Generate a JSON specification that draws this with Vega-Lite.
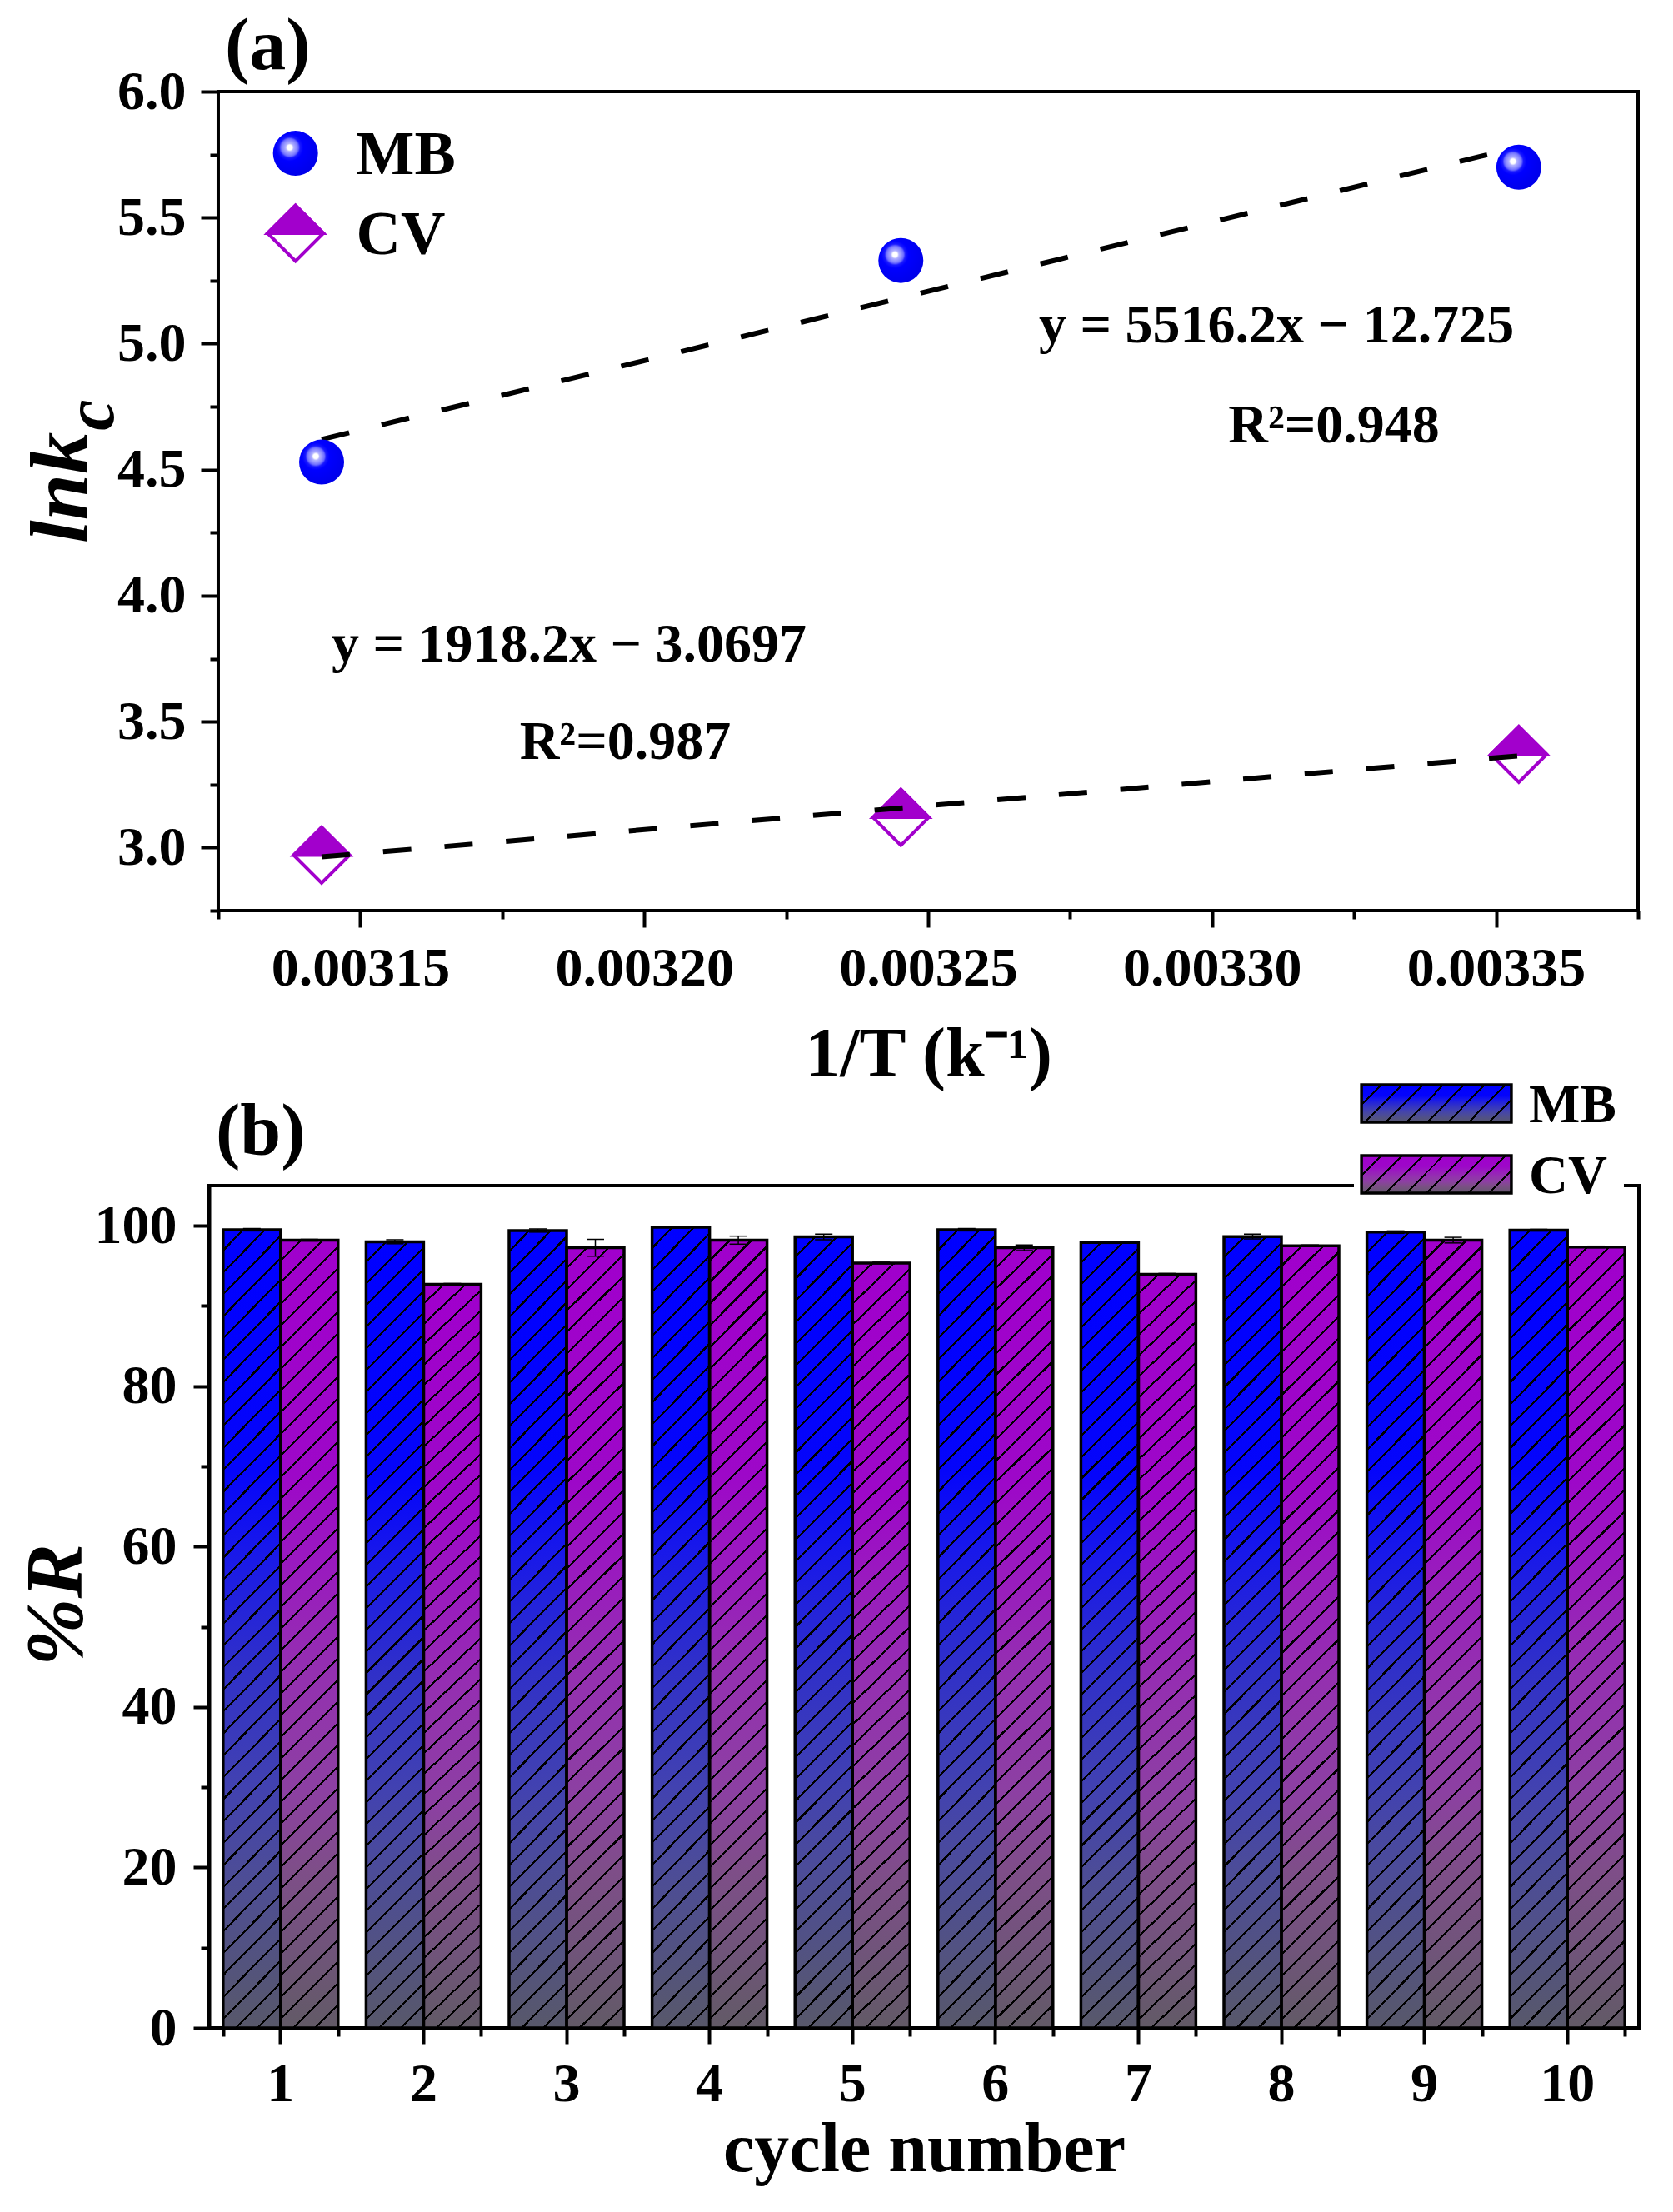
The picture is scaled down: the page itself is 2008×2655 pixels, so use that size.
{
  "$schema": "https://vega.github.io/schema/vega-lite/v6.json",
  "background": "white",
  "padding": {"left": 17, "top": 13, "right": 0, "bottom": 0},
  "config": {
    "font": "Liberation Serif",
    "view": {"stroke": "black", "strokeWidth": 4},
    "axis": {
      "labelFont": "Liberation Serif", "labelFontSize": 66, "labelFontWeight": "bold", "labelColor": "black", "labelLimit": 0,
      "titleFont": "Liberation Serif", "titleFontWeight": "bold", "titleColor": "black", "titleLimit": 0,
      "domainColor": "black", "domainWidth": 4, "tickColor": "black", "tickWidth": 4,
      "grid": false, "labelFlush": false, "labelOverlap": false, "labelBound": false
    },
    "title": {"font": "Liberation Serif", "fontWeight": "bold", "fontSize": 88, "color": "black", "anchor": "start", "frame": "group", "baseline": "alphabetic"},
    "text": {"font": "Liberation Serif", "fontWeight": "bold", "color": "black"}
  },
  "datasets": {
    "points": [
      {"invT": 0.0031432, "lnk": 4.53, "dye": "MB"},
      {"invT": 0.0032452, "lnk": 5.33, "dye": "MB"},
      {"invT": 0.003354, "lnk": 5.70, "dye": "MB"},
      {"invT": 0.0031432, "lnk": 2.97, "dye": "CV"},
      {"invT": 0.0032452, "lnk": 3.12, "dye": "CV"},
      {"invT": 0.003354, "lnk": 3.37, "dye": "CV"}
    ],
    "fits": [
      {"invT": 0.0031432, "fit": 4.62, "dye": "MB"},
      {"invT": 0.003354, "fit": 5.78, "dye": "MB"},
      {"invT": 0.0031432, "fit": 2.963, "dye": "CV"},
      {"invT": 0.003354, "fit": 3.364, "dye": "CV"}
    ],
    "fitText": [
      {"dye": "MB", "eq": "y = 5516.2x − 12.725", "r2": "R²=0.948"},
      {"dye": "CV", "eq": "y = 1918.2x − 3.0697", "r2": "R²=0.987"}
    ],
    "legend": [{"dye": "MB"}, {"dye": "CV"}],
    "bars": [
      {"cycle": 1, "dye": "MB", "R": 99.5, "lo": 99.35, "hi": 99.65},
      {"cycle": 1, "dye": "CV", "R": 98.2, "lo": 98.1, "hi": 98.3},
      {"cycle": 2, "dye": "MB", "R": 98.0, "lo": 97.75, "hi": 98.25},
      {"cycle": 2, "dye": "CV", "R": 92.7, "lo": 92.6, "hi": 92.8},
      {"cycle": 3, "dye": "MB", "R": 99.4, "lo": 99.2, "hi": 99.6},
      {"cycle": 3, "dye": "CV", "R": 97.25, "lo": 96.2, "hi": 98.3},
      {"cycle": 4, "dye": "MB", "R": 99.8, "lo": 99.7, "hi": 99.9},
      {"cycle": 4, "dye": "CV", "R": 98.2, "lo": 97.7, "hi": 98.7},
      {"cycle": 5, "dye": "MB", "R": 98.6, "lo": 98.25, "hi": 98.95},
      {"cycle": 5, "dye": "CV", "R": 95.35, "lo": 95.25, "hi": 95.45},
      {"cycle": 6, "dye": "MB", "R": 99.5, "lo": 99.35, "hi": 99.65},
      {"cycle": 6, "dye": "CV", "R": 97.25, "lo": 96.9, "hi": 97.6},
      {"cycle": 7, "dye": "MB", "R": 97.9, "lo": 97.8, "hi": 98.0},
      {"cycle": 7, "dye": "CV", "R": 93.95, "lo": 93.85, "hi": 94.05},
      {"cycle": 8, "dye": "MB", "R": 98.65, "lo": 98.35, "hi": 98.95},
      {"cycle": 8, "dye": "CV", "R": 97.5, "lo": 97.4, "hi": 97.6},
      {"cycle": 9, "dye": "MB", "R": 99.2, "lo": 99.05, "hi": 99.35},
      {"cycle": 9, "dye": "CV", "R": 98.2, "lo": 97.85, "hi": 98.55},
      {"cycle": 10, "dye": "MB", "R": 99.45, "lo": 99.35, "hi": 99.55},
      {"cycle": 10, "dye": "CV", "R": 97.35, "lo": 97.25, "hi": 97.45}
    ]
  },
  "bounds": "flush",
  "spacing": 330,
  "vconcat": [
    {
      "width": 1715,
      "height": 983,
      "view": {"stroke": null},
      "title": {"text": "(a)", "offset": -24, "dx": 19},
      "resolve": {"axis": {"x": "independent", "y": "independent"}},
      "layer": [
        {
          "data": {"name": "points"},
          "transform": [{"filter": "datum.dye === 'CV'"}],
          "mark": {"type": "point", "shape": "diamond", "filled": true, "fill": "white", "stroke": "#a200cc", "strokeWidth": 4, "size": 4489, "opacity": 1},
          "encoding": {
            "x": {
              "field": "invT", "type": "quantitative",
              "scale": {"domain": [0.00312339, 0.003375], "nice": false, "zero": false},
              "axis": {"orient": "bottom", "domain": false, "values": [0.00315, 0.0032, 0.00325, 0.0033, 0.00335], "format": ".5f", "tickSize": 20, "labelPadding": 69, "labelBaseline": "alphabetic", "title": "1/T (k⁻¹)", "titleFontSize": 84, "titleX": 863, "titleAlign": "center", "titleY": 198, "titleBaseline": "alphabetic"}
            },
            "y": {
              "field": "lnk", "type": "quantitative",
              "scale": {"domain": [2.75, 6], "nice": false, "zero": false},
              "axis": {"orient": "left", "offset": -11, "domain": false, "values": [3, 3.5, 4, 4.5, 5, 5.5, 6], "format": ".1f", "tickSize": 21, "labelPadding": 18, "title": "lnk", "titleFontSize": 100, "titleFontStyle": "italic", "titleAngle": 270, "titleX": -158, "titleY": 475, "titleAlign": "center", "titleBaseline": "alphabetic"}
            }
          }
        },
        {
          "data": {"name": "points"},
          "transform": [{"filter": "datum.dye === 'CV'"}],
          "mark": {"type": "point", "shape": "M-1,0L0,-1L1,0Z", "filled": true, "fill": "#a200cc", "stroke": "#a200cc", "strokeWidth": 4, "size": 4489, "opacity": 1},
          "encoding": {
            "x": {"field": "invT", "type": "quantitative", "axis": null},
            "y": {"field": "lnk", "type": "quantitative", "axis": null}
          }
        },
        {
          "data": {"name": "legend"},
          "transform": [{"filter": "datum.dye === 'CV'"}],
          "mark": {"type": "point", "shape": "diamond", "filled": true, "fill": "white", "stroke": "#a200cc", "strokeWidth": 4, "size": 4489, "opacity": 1},
          "encoding": {
            "x": {"datum": 0.0031386, "type": "quantitative", "axis": null},
            "y": {"datum": 5.438, "type": "quantitative", "axis": null}
          }
        },
        {
          "data": {"name": "legend"},
          "transform": [{"filter": "datum.dye === 'CV'"}],
          "mark": {"type": "point", "shape": "M-1,0L0,-1L1,0Z", "filled": true, "fill": "#a200cc", "stroke": "#a200cc", "strokeWidth": 4, "size": 4489, "opacity": 1},
          "encoding": {
            "x": {"datum": 0.0031386, "type": "quantitative", "axis": null},
            "y": {"datum": 5.438, "type": "quantitative", "axis": null}
          }
        },
        {
          "data": {"name": "fits"},
          "mark": {"type": "line", "strokeDash": [34, 40], "strokeWidth": 6, "color": "black", "strokeCap": "butt"},
          "encoding": {
            "x": {"field": "invT", "type": "quantitative", "axis": null},
            "y": {"field": "fit", "type": "quantitative", "axis": null},
            "detail": {"field": "dye"}
          }
        },
        {
          "data": {"name": "points"},
          "transform": [{"filter": "datum.dye === 'MB'"}],
          "mark": {
            "type": "point", "shape": "circle", "filled": true, "strokeWidth": 0, "size": 2916, "opacity": 1,
            "fill": {"gradient": "radial", "x1": 0.37, "y1": 0.37, "r1": 0, "x2": 0.37, "y2": 0.37, "r2": 0.72,
              "stops": [
                {"offset": 0, "color": "#ffffff"}, {"offset": 0.08, "color": "#ffffff"},
                {"offset": 0.12, "color": "#b4b4ff"}, {"offset": 0.22, "color": "#8888ff"},
                {"offset": 0.27, "color": "#6a6aff"}, {"offset": 0.32, "color": "#1a1aff"},
                {"offset": 0.42, "color": "#0000ff"}, {"offset": 1, "color": "#0000e6"}
              ]}
          },
          "encoding": {
            "x": {"field": "invT", "type": "quantitative", "axis": null},
            "y": {"field": "lnk", "type": "quantitative", "axis": null}
          }
        },
        {
          "data": {"name": "legend"},
          "transform": [{"filter": "datum.dye === 'MB'"}],
          "mark": {
            "type": "point", "shape": "circle", "filled": true, "strokeWidth": 0, "size": 2916, "opacity": 1,
            "fill": {"gradient": "radial", "x1": 0.37, "y1": 0.37, "r1": 0, "x2": 0.37, "y2": 0.37, "r2": 0.72,
              "stops": [
                {"offset": 0, "color": "#ffffff"}, {"offset": 0.08, "color": "#ffffff"},
                {"offset": 0.12, "color": "#b4b4ff"}, {"offset": 0.22, "color": "#8888ff"},
                {"offset": 0.27, "color": "#6a6aff"}, {"offset": 0.32, "color": "#1a1aff"},
                {"offset": 0.42, "color": "#0000ff"}, {"offset": 1, "color": "#0000e6"}
              ]}
          },
          "encoding": {
            "x": {"datum": 0.0031386, "type": "quantitative", "axis": null},
            "y": {"datum": 5.755, "type": "quantitative", "axis": null}
          }
        },
        {
          "data": {"name": "legend"},
          "transform": [{"filter": "datum.dye === 'MB'"}],
          "mark": {"type": "text", "fontSize": 74, "align": "left", "baseline": "alphabetic"},
          "encoding": {
            "text": {"field": "dye"},
            "x": {"datum": 0.0031493, "type": "quantitative", "axis": null},
            "y": {"datum": 5.673, "type": "quantitative", "axis": null}
          }
        },
        {
          "data": {"name": "legend"},
          "transform": [{"filter": "datum.dye === 'CV'"}],
          "mark": {"type": "text", "fontSize": 74, "align": "left", "baseline": "alphabetic"},
          "encoding": {
            "text": {"field": "dye"},
            "x": {"datum": 0.0031493, "type": "quantitative", "axis": null},
            "y": {"datum": 5.355, "type": "quantitative", "axis": null}
          }
        },
        {
          "data": {"name": "fitText"},
          "transform": [{"filter": "datum.dye === 'MB'"}],
          "mark": {"type": "text", "fontSize": 66, "align": "center", "baseline": "alphabetic"},
          "encoding": {
            "text": {"field": "eq"},
            "x": {"datum": 0.00331133, "type": "quantitative", "axis": null},
            "y": {"datum": 5.005, "type": "quantitative", "axis": null}
          }
        },
        {
          "data": {"name": "fitText"},
          "transform": [{"filter": "datum.dye === 'MB'"}],
          "mark": {"type": "text", "fontSize": 66, "align": "center", "baseline": "alphabetic"},
          "encoding": {
            "text": {"field": "r2"},
            "x": {"datum": 0.00332145, "type": "quantitative", "axis": null},
            "y": {"datum": 4.608, "type": "quantitative", "axis": null}
          }
        },
        {
          "data": {"name": "fitText"},
          "transform": [{"filter": "datum.dye === 'CV'"}],
          "mark": {"type": "text", "fontSize": 66, "align": "center", "baseline": "alphabetic"},
          "encoding": {
            "text": {"field": "eq"},
            "x": {"datum": 0.00318677, "type": "quantitative", "axis": null},
            "y": {"datum": 3.739, "type": "quantitative", "axis": null}
          }
        },
        {
          "data": {"name": "fitText"},
          "transform": [{"filter": "datum.dye === 'CV'"}],
          "mark": {"type": "text", "fontSize": 66, "align": "center", "baseline": "alphabetic"},
          "encoding": {
            "text": {"field": "r2"},
            "x": {"datum": 0.00319667, "type": "quantitative", "axis": null},
            "y": {"datum": 3.352, "type": "quantitative", "axis": null}
          }
        },
        {
          "data": {"values": [{"sub": "c"}]},
          "mark": {"type": "text", "angle": 270, "fontSize": 84, "fontStyle": "italic", "align": "center", "baseline": "middle"},
          "encoding": {
            "text": {"field": "sub"},
            "x": {"datum": 0.00310285, "type": "quantitative", "axis": null},
            "y": {"datum": 4.717, "type": "quantitative", "axis": null}
          }
        },
        {
          "data": {"values": [{"frame": "plot"}]},
          "mark": {"type": "rect", "fill": null, "fillOpacity": 0, "stroke": "black", "strokeWidth": 4},
          "encoding": {
            "x": {"datum": 0.003125, "type": "quantitative", "axis": null},
            "x2": {"datum": 0.003375},
            "y": {"datum": 2.75, "type": "quantitative", "axis": null},
            "y2": {"datum": 6.0}
          }
        },
        {
          "data": {"name": "points"},
          "mark": {"type": "point", "opacity": 0},
          "encoding": {
            "x": {"field": "invT", "type": "quantitative", "axis": {"orient": "bottom", "values": [0.003125, 0.003175, 0.003225, 0.003275, 0.003325, 0.003375], "labels": false, "domain": false, "tickSize": 10, "title": null}},
            "y": {"field": "lnk", "type": "quantitative", "axis": {"orient": "left", "offset": -11, "values": [2.75, 3.25, 3.75, 4.25, 4.75, 5.25, 5.75], "labels": false, "domain": false, "tickSize": 10, "title": null}}
          }
        }
      ]
    },
    {
      "width": 1716,
      "height": 1011,
      "title": {"text": "(b)", "offset": -116, "dx": 8},
      "resolve": {"scale": {"x": "independent"}, "axis": {"x": "independent", "y": "independent"}},
      "layer": [
        {
          "resolve": {"axis": {"x": "independent", "y": "independent"}},
          "layer": [
            {
              "data": {"name": "bars"},
              "transform": [{"filter": "datum.dye === 'MB'"}],
              "mark": {
                "type": "bar", "stroke": null,
                "fill": {"gradient": "linear", "x1": 0, "y1": 0, "x2": 0, "y2": 1, "stops": [
                  {"offset": 0, "color": "#0000ff"}, {"offset": 0.3, "color": "#0505fa"},
                  {"offset": 0.4, "color": "#1818ea"}, {"offset": 0.55, "color": "#3030c8"},
                  {"offset": 0.7, "color": "#4242b0"}, {"offset": 0.8, "color": "#4c4c98"},
                  {"offset": 0.9, "color": "#525282"}, {"offset": 1, "color": "#58586a"}
                ]}
              },
              "encoding": {
                "x": {
                  "field": "cycle", "type": "ordinal",
                  "scale": {"paddingInner": 0.196, "paddingOuter": 0.098},
                  "axis": {"orient": "bottom", "labelAngle": 0, "tickSize": 19, "labelPadding": 68, "labelBaseline": "alphabetic", "title": "cycle number", "titleFontSize": 84, "titleY": 171, "titleBaseline": "alphabetic"}
                },
                "xOffset": {"field": "dye", "scale": {"domain": ["MB", "CV"]}},
                "y": {
                  "field": "R", "type": "quantitative",
                  "scale": {"domain": [0, 105], "nice": false, "zero": true},
                  "axis": {"orient": "left", "values": [0, 20, 40, 60, 80, 100], "tickSize": 19, "labelPadding": 20, "title": "%R", "titleFontSize": 98, "titleFontStyle": "italic", "titleAngle": 270, "titleX": -154, "titleY": 503, "titleAlign": "center", "titleBaseline": "alphabetic"}
                }
              }
            },
            {
              "data": {"name": "bars"},
              "transform": [{"filter": "datum.dye === 'CV'"}],
              "mark": {
                "type": "bar", "stroke": null,
                "fill": {"gradient": "linear", "x1": 0, "y1": 0, "x2": 0, "y2": 1, "stops": [
                  {"offset": 0, "color": "#a000cc"}, {"offset": 0.3, "color": "#9d08c8"},
                  {"offset": 0.4, "color": "#9a18c0"}, {"offset": 0.55, "color": "#9430b0"},
                  {"offset": 0.7, "color": "#8c40a2"}, {"offset": 0.8, "color": "#7e4e88"},
                  {"offset": 0.9, "color": "#70547a"}, {"offset": 1, "color": "#625a66"}
                ]}
              },
              "encoding": {
                "x": {"field": "cycle", "type": "ordinal", "axis": null},
                "xOffset": {"field": "dye", "scale": {"domain": ["MB", "CV"]}},
                "y": {"field": "R", "type": "quantitative", "axis": null}
              }
            },
            {
              "data": {"name": "bars"},
              "mark": {
                "type": "bar", "stroke": "black", "strokeWidth": 3.5,
                "fill": {"gradient": "linear", "x1": 0, "y1": 0, "x2": 0.078, "y2": 1.0674, "stops": [
                  {"offset": 0.02256, "color": "rgba(0,0,0,0)"}, {"offset": 0.02256, "color": "#000"}, {"offset": 0.02564, "color": "#000"}, {"offset": 0.02564, "color": "rgba(0,0,0,0)"},
                  {"offset": 0.04821, "color": "rgba(0,0,0,0)"}, {"offset": 0.04821, "color": "#000"}, {"offset": 0.05128, "color": "#000"}, {"offset": 0.05128, "color": "rgba(0,0,0,0)"},
                  {"offset": 0.07385, "color": "rgba(0,0,0,0)"}, {"offset": 0.07385, "color": "#000"}, {"offset": 0.07692, "color": "#000"}, {"offset": 0.07692, "color": "rgba(0,0,0,0)"},
                  {"offset": 0.09949, "color": "rgba(0,0,0,0)"}, {"offset": 0.09949, "color": "#000"}, {"offset": 0.10256, "color": "#000"}, {"offset": 0.10256, "color": "rgba(0,0,0,0)"},
                  {"offset": 0.12513, "color": "rgba(0,0,0,0)"}, {"offset": 0.12513, "color": "#000"}, {"offset": 0.12821, "color": "#000"}, {"offset": 0.12821, "color": "rgba(0,0,0,0)"},
                  {"offset": 0.15077, "color": "rgba(0,0,0,0)"}, {"offset": 0.15077, "color": "#000"}, {"offset": 0.15385, "color": "#000"}, {"offset": 0.15385, "color": "rgba(0,0,0,0)"},
                  {"offset": 0.17641, "color": "rgba(0,0,0,0)"}, {"offset": 0.17641, "color": "#000"}, {"offset": 0.17949, "color": "#000"}, {"offset": 0.17949, "color": "rgba(0,0,0,0)"},
                  {"offset": 0.20205, "color": "rgba(0,0,0,0)"}, {"offset": 0.20205, "color": "#000"}, {"offset": 0.20513, "color": "#000"}, {"offset": 0.20513, "color": "rgba(0,0,0,0)"},
                  {"offset": 0.22769, "color": "rgba(0,0,0,0)"}, {"offset": 0.22769, "color": "#000"}, {"offset": 0.23077, "color": "#000"}, {"offset": 0.23077, "color": "rgba(0,0,0,0)"},
                  {"offset": 0.25333, "color": "rgba(0,0,0,0)"}, {"offset": 0.25333, "color": "#000"}, {"offset": 0.25641, "color": "#000"}, {"offset": 0.25641, "color": "rgba(0,0,0,0)"},
                  {"offset": 0.27897, "color": "rgba(0,0,0,0)"}, {"offset": 0.27897, "color": "#000"}, {"offset": 0.28205, "color": "#000"}, {"offset": 0.28205, "color": "rgba(0,0,0,0)"},
                  {"offset": 0.30462, "color": "rgba(0,0,0,0)"}, {"offset": 0.30462, "color": "#000"}, {"offset": 0.30769, "color": "#000"}, {"offset": 0.30769, "color": "rgba(0,0,0,0)"},
                  {"offset": 0.33026, "color": "rgba(0,0,0,0)"}, {"offset": 0.33026, "color": "#000"}, {"offset": 0.33333, "color": "#000"}, {"offset": 0.33333, "color": "rgba(0,0,0,0)"},
                  {"offset": 0.3559, "color": "rgba(0,0,0,0)"}, {"offset": 0.3559, "color": "#000"}, {"offset": 0.35897, "color": "#000"}, {"offset": 0.35897, "color": "rgba(0,0,0,0)"},
                  {"offset": 0.38154, "color": "rgba(0,0,0,0)"}, {"offset": 0.38154, "color": "#000"}, {"offset": 0.38462, "color": "#000"}, {"offset": 0.38462, "color": "rgba(0,0,0,0)"},
                  {"offset": 0.40718, "color": "rgba(0,0,0,0)"}, {"offset": 0.40718, "color": "#000"}, {"offset": 0.41026, "color": "#000"}, {"offset": 0.41026, "color": "rgba(0,0,0,0)"},
                  {"offset": 0.43282, "color": "rgba(0,0,0,0)"}, {"offset": 0.43282, "color": "#000"}, {"offset": 0.4359, "color": "#000"}, {"offset": 0.4359, "color": "rgba(0,0,0,0)"},
                  {"offset": 0.45846, "color": "rgba(0,0,0,0)"}, {"offset": 0.45846, "color": "#000"}, {"offset": 0.46154, "color": "#000"}, {"offset": 0.46154, "color": "rgba(0,0,0,0)"},
                  {"offset": 0.4841, "color": "rgba(0,0,0,0)"}, {"offset": 0.4841, "color": "#000"}, {"offset": 0.48718, "color": "#000"}, {"offset": 0.48718, "color": "rgba(0,0,0,0)"},
                  {"offset": 0.50974, "color": "rgba(0,0,0,0)"}, {"offset": 0.50974, "color": "#000"}, {"offset": 0.51282, "color": "#000"}, {"offset": 0.51282, "color": "rgba(0,0,0,0)"},
                  {"offset": 0.53538, "color": "rgba(0,0,0,0)"}, {"offset": 0.53538, "color": "#000"}, {"offset": 0.53846, "color": "#000"}, {"offset": 0.53846, "color": "rgba(0,0,0,0)"},
                  {"offset": 0.56103, "color": "rgba(0,0,0,0)"}, {"offset": 0.56103, "color": "#000"}, {"offset": 0.5641, "color": "#000"}, {"offset": 0.5641, "color": "rgba(0,0,0,0)"},
                  {"offset": 0.58667, "color": "rgba(0,0,0,0)"}, {"offset": 0.58667, "color": "#000"}, {"offset": 0.58974, "color": "#000"}, {"offset": 0.58974, "color": "rgba(0,0,0,0)"},
                  {"offset": 0.61231, "color": "rgba(0,0,0,0)"}, {"offset": 0.61231, "color": "#000"}, {"offset": 0.61538, "color": "#000"}, {"offset": 0.61538, "color": "rgba(0,0,0,0)"},
                  {"offset": 0.63795, "color": "rgba(0,0,0,0)"}, {"offset": 0.63795, "color": "#000"}, {"offset": 0.64103, "color": "#000"}, {"offset": 0.64103, "color": "rgba(0,0,0,0)"},
                  {"offset": 0.66359, "color": "rgba(0,0,0,0)"}, {"offset": 0.66359, "color": "#000"}, {"offset": 0.66667, "color": "#000"}, {"offset": 0.66667, "color": "rgba(0,0,0,0)"},
                  {"offset": 0.68923, "color": "rgba(0,0,0,0)"}, {"offset": 0.68923, "color": "#000"}, {"offset": 0.69231, "color": "#000"}, {"offset": 0.69231, "color": "rgba(0,0,0,0)"},
                  {"offset": 0.71487, "color": "rgba(0,0,0,0)"}, {"offset": 0.71487, "color": "#000"}, {"offset": 0.71795, "color": "#000"}, {"offset": 0.71795, "color": "rgba(0,0,0,0)"},
                  {"offset": 0.74051, "color": "rgba(0,0,0,0)"}, {"offset": 0.74051, "color": "#000"}, {"offset": 0.74359, "color": "#000"}, {"offset": 0.74359, "color": "rgba(0,0,0,0)"},
                  {"offset": 0.76615, "color": "rgba(0,0,0,0)"}, {"offset": 0.76615, "color": "#000"}, {"offset": 0.76923, "color": "#000"}, {"offset": 0.76923, "color": "rgba(0,0,0,0)"},
                  {"offset": 0.79179, "color": "rgba(0,0,0,0)"}, {"offset": 0.79179, "color": "#000"}, {"offset": 0.79487, "color": "#000"}, {"offset": 0.79487, "color": "rgba(0,0,0,0)"},
                  {"offset": 0.81744, "color": "rgba(0,0,0,0)"}, {"offset": 0.81744, "color": "#000"}, {"offset": 0.82051, "color": "#000"}, {"offset": 0.82051, "color": "rgba(0,0,0,0)"},
                  {"offset": 0.84308, "color": "rgba(0,0,0,0)"}, {"offset": 0.84308, "color": "#000"}, {"offset": 0.84615, "color": "#000"}, {"offset": 0.84615, "color": "rgba(0,0,0,0)"},
                  {"offset": 0.86872, "color": "rgba(0,0,0,0)"}, {"offset": 0.86872, "color": "#000"}, {"offset": 0.87179, "color": "#000"}, {"offset": 0.87179, "color": "rgba(0,0,0,0)"},
                  {"offset": 0.89436, "color": "rgba(0,0,0,0)"}, {"offset": 0.89436, "color": "#000"}, {"offset": 0.89744, "color": "#000"}, {"offset": 0.89744, "color": "rgba(0,0,0,0)"},
                  {"offset": 0.92, "color": "rgba(0,0,0,0)"}, {"offset": 0.92, "color": "#000"}, {"offset": 0.92308, "color": "#000"}, {"offset": 0.92308, "color": "rgba(0,0,0,0)"},
                  {"offset": 0.94564, "color": "rgba(0,0,0,0)"}, {"offset": 0.94564, "color": "#000"}, {"offset": 0.94872, "color": "#000"}, {"offset": 0.94872, "color": "rgba(0,0,0,0)"},
                  {"offset": 0.97128, "color": "rgba(0,0,0,0)"}, {"offset": 0.97128, "color": "#000"}, {"offset": 0.97436, "color": "#000"}, {"offset": 0.97436, "color": "rgba(0,0,0,0)"},
                  {"offset": 0.99692, "color": "rgba(0,0,0,0)"}, {"offset": 0.99692, "color": "#000"}, {"offset": 1, "color": "#000"}
                ]}
              },
              "encoding": {
                "x": {"field": "cycle", "type": "ordinal", "axis": null},
                "xOffset": {"field": "dye", "scale": {"domain": ["MB", "CV"]}},
                "y": {"field": "R", "type": "quantitative", "axis": null}
              }
            },
            {
              "data": {"name": "bars"},
              "mark": {"type": "rule", "color": "black", "strokeWidth": 1.5},
              "encoding": {
                "x": {"field": "cycle", "type": "ordinal", "axis": null},
                "xOffset": {"field": "dye", "scale": {"domain": ["MB", "CV"]}},
                "y": {"field": "lo", "type": "quantitative", "axis": null},
                "y2": {"field": "hi"}
              }
            },
            {
              "data": {"name": "bars"},
              "mark": {"type": "tick", "color": "black", "thickness": 1.5, "size": 21, "opacity": 1},
              "encoding": {
                "x": {"field": "cycle", "type": "ordinal", "axis": null},
                "xOffset": {"field": "dye", "scale": {"domain": ["MB", "CV"]}},
                "y": {"field": "lo", "type": "quantitative", "axis": null}
              }
            },
            {
              "data": {"name": "bars"},
              "mark": {"type": "tick", "color": "black", "thickness": 1.5, "size": 21, "opacity": 1},
              "encoding": {
                "x": {"field": "cycle", "type": "ordinal", "axis": null},
                "xOffset": {"field": "dye", "scale": {"domain": ["MB", "CV"]}},
                "y": {"field": "hi", "type": "quantitative", "axis": null}
              }
            },
            {
              "data": {"name": "bars"},
              "mark": {"type": "point", "opacity": 0},
              "encoding": {
                "x": {"field": "cycle", "type": "ordinal", "axis": {"orient": "bottom", "tickBand": "extent", "labels": false, "domain": false, "tickSize": 10, "title": null}},
                "y": {"field": "R", "type": "quantitative", "axis": {"orient": "left", "values": [10, 30, 50, 70, 90], "labels": false, "domain": false, "tickSize": 10, "title": null}}
              }
            }
          ]
        },
        {
          "layer": [
            {
              "data": {"name": "legend"},
              "transform": [{"filter": "datum.dye === 'MB'"}],
              "mark": {"type": "rect", "fill": "white", "stroke": null},
              "encoding": {
                "x": {"datum": 8.507, "type": "quantitative", "scale": {"domain": [0.5, 10.5], "nice": false, "zero": false}, "axis": null},
                "x2": {"datum": 10.395},
                "y": {"datum": 119.0, "type": "quantitative", "axis": null},
                "y2": {"datum": 102.9}
              }
            },
            {
              "data": {"name": "legend"},
              "transform": [{"filter": "datum.dye === 'MB'"}],
              "mark": {
                "type": "rect", "stroke": null,
                "fill": {"gradient": "linear", "x1": 0, "y1": 0, "x2": 0, "y2": 1, "stops": [
                  {"offset": 0, "color": "#0000ff"}, {"offset": 0.3, "color": "#0505fa"},
                  {"offset": 0.4, "color": "#1818ea"}, {"offset": 0.55, "color": "#3030c8"},
                  {"offset": 0.7, "color": "#4242b0"}, {"offset": 0.8, "color": "#4c4c98"},
                  {"offset": 0.9, "color": "#525282"}, {"offset": 1, "color": "#58586a"}
                ]}
              },
              "encoding": {
                "x": {"datum": 8.56, "type": "quantitative", "axis": null},
                "x2": {"datum": 9.608},
                "y": {"datum": 117.57, "type": "quantitative", "axis": null},
                "y2": {"datum": 112.89}
              }
            },
            {
              "data": {"name": "legend"},
              "transform": [{"filter": "datum.dye === 'CV'"}],
              "mark": {
                "type": "rect", "stroke": null,
                "fill": {"gradient": "linear", "x1": 0, "y1": 0, "x2": 0, "y2": 1, "stops": [
                  {"offset": 0, "color": "#a000cc"}, {"offset": 0.3, "color": "#9d08c8"},
                  {"offset": 0.4, "color": "#9a18c0"}, {"offset": 0.55, "color": "#9430b0"},
                  {"offset": 0.7, "color": "#8c40a2"}, {"offset": 0.8, "color": "#7e4e88"},
                  {"offset": 0.9, "color": "#70547a"}, {"offset": 1, "color": "#625a66"}
                ]}
              },
              "encoding": {
                "x": {"datum": 8.56, "type": "quantitative", "axis": null},
                "x2": {"datum": 9.608},
                "y": {"datum": 108.74, "type": "quantitative", "axis": null},
                "y2": {"datum": 104.07}
              }
            },
            {
              "data": {"name": "legend"},
              "transform": [{"filter": "datum.dye === 'MB'"}],
              "mark": {
                "type": "rect", "stroke": "black", "strokeWidth": 3.5,
                "fill": {"gradient": "linear", "x1": 0, "y1": 0, "x2": 1.1765, "y2": 0.2941, "stops": [
                  {"offset": 0.09778, "color": "rgba(0,0,0,0)"}, {"offset": 0.09778, "color": "#000"}, {"offset": 0.11111, "color": "#000"}, {"offset": 0.11111, "color": "rgba(0,0,0,0)"},
                  {"offset": 0.20889, "color": "rgba(0,0,0,0)"}, {"offset": 0.20889, "color": "#000"}, {"offset": 0.22222, "color": "#000"}, {"offset": 0.22222, "color": "rgba(0,0,0,0)"},
                  {"offset": 0.32, "color": "rgba(0,0,0,0)"}, {"offset": 0.32, "color": "#000"}, {"offset": 0.33333, "color": "#000"}, {"offset": 0.33333, "color": "rgba(0,0,0,0)"},
                  {"offset": 0.43111, "color": "rgba(0,0,0,0)"}, {"offset": 0.43111, "color": "#000"}, {"offset": 0.44444, "color": "#000"}, {"offset": 0.44444, "color": "rgba(0,0,0,0)"},
                  {"offset": 0.54222, "color": "rgba(0,0,0,0)"}, {"offset": 0.54222, "color": "#000"}, {"offset": 0.55556, "color": "#000"}, {"offset": 0.55556, "color": "rgba(0,0,0,0)"},
                  {"offset": 0.65333, "color": "rgba(0,0,0,0)"}, {"offset": 0.65333, "color": "#000"}, {"offset": 0.66667, "color": "#000"}, {"offset": 0.66667, "color": "rgba(0,0,0,0)"},
                  {"offset": 0.76444, "color": "rgba(0,0,0,0)"}, {"offset": 0.76444, "color": "#000"}, {"offset": 0.77778, "color": "#000"}, {"offset": 0.77778, "color": "rgba(0,0,0,0)"},
                  {"offset": 0.87556, "color": "rgba(0,0,0,0)"}, {"offset": 0.87556, "color": "#000"}, {"offset": 0.88889, "color": "#000"}, {"offset": 0.88889, "color": "rgba(0,0,0,0)"},
                  {"offset": 0.98667, "color": "rgba(0,0,0,0)"}, {"offset": 0.98667, "color": "#000"}, {"offset": 1, "color": "#000"}
                ]}
              },
              "encoding": {
                "x": {"datum": 8.56, "type": "quantitative", "axis": null},
                "x2": {"datum": 9.608},
                "y": {"datum": 117.57, "type": "quantitative", "axis": null},
                "y2": {"datum": 112.89}
              }
            },
            {
              "data": {"name": "legend"},
              "transform": [{"filter": "datum.dye === 'CV'"}],
              "mark": {
                "type": "rect", "stroke": "black", "strokeWidth": 3.5,
                "fill": {"gradient": "linear", "x1": 0, "y1": 0, "x2": 1.1765, "y2": 0.2941, "stops": [
                  {"offset": 0.09778, "color": "rgba(0,0,0,0)"}, {"offset": 0.09778, "color": "#000"}, {"offset": 0.11111, "color": "#000"}, {"offset": 0.11111, "color": "rgba(0,0,0,0)"},
                  {"offset": 0.20889, "color": "rgba(0,0,0,0)"}, {"offset": 0.20889, "color": "#000"}, {"offset": 0.22222, "color": "#000"}, {"offset": 0.22222, "color": "rgba(0,0,0,0)"},
                  {"offset": 0.32, "color": "rgba(0,0,0,0)"}, {"offset": 0.32, "color": "#000"}, {"offset": 0.33333, "color": "#000"}, {"offset": 0.33333, "color": "rgba(0,0,0,0)"},
                  {"offset": 0.43111, "color": "rgba(0,0,0,0)"}, {"offset": 0.43111, "color": "#000"}, {"offset": 0.44444, "color": "#000"}, {"offset": 0.44444, "color": "rgba(0,0,0,0)"},
                  {"offset": 0.54222, "color": "rgba(0,0,0,0)"}, {"offset": 0.54222, "color": "#000"}, {"offset": 0.55556, "color": "#000"}, {"offset": 0.55556, "color": "rgba(0,0,0,0)"},
                  {"offset": 0.65333, "color": "rgba(0,0,0,0)"}, {"offset": 0.65333, "color": "#000"}, {"offset": 0.66667, "color": "#000"}, {"offset": 0.66667, "color": "rgba(0,0,0,0)"},
                  {"offset": 0.76444, "color": "rgba(0,0,0,0)"}, {"offset": 0.76444, "color": "#000"}, {"offset": 0.77778, "color": "#000"}, {"offset": 0.77778, "color": "rgba(0,0,0,0)"},
                  {"offset": 0.87556, "color": "rgba(0,0,0,0)"}, {"offset": 0.87556, "color": "#000"}, {"offset": 0.88889, "color": "#000"}, {"offset": 0.88889, "color": "rgba(0,0,0,0)"},
                  {"offset": 0.98667, "color": "rgba(0,0,0,0)"}, {"offset": 0.98667, "color": "#000"}, {"offset": 1, "color": "#000"}
                ]}
              },
              "encoding": {
                "x": {"datum": 8.56, "type": "quantitative", "axis": null},
                "x2": {"datum": 9.608},
                "y": {"datum": 108.74, "type": "quantitative", "axis": null},
                "y2": {"datum": 104.07}
              }
            },
            {
              "data": {"name": "legend"},
              "transform": [{"filter": "datum.dye === 'MB'"}],
              "mark": {"type": "text", "fontSize": 65, "align": "left", "baseline": "alphabetic"},
              "encoding": {
                "text": {"field": "dye"},
                "x": {"datum": 9.731, "type": "quantitative", "axis": null},
                "y": {"datum": 112.89, "type": "quantitative", "axis": null}
              }
            },
            {
              "data": {"name": "legend"},
              "transform": [{"filter": "datum.dye === 'CV'"}],
              "mark": {"type": "text", "fontSize": 65, "align": "left", "baseline": "alphabetic"},
              "encoding": {
                "text": {"field": "dye"},
                "x": {"datum": 9.731, "type": "quantitative", "axis": null},
                "y": {"datum": 104.07, "type": "quantitative", "axis": null}
              }
            }
          ]
        }
      ]
    }
  ]
}
